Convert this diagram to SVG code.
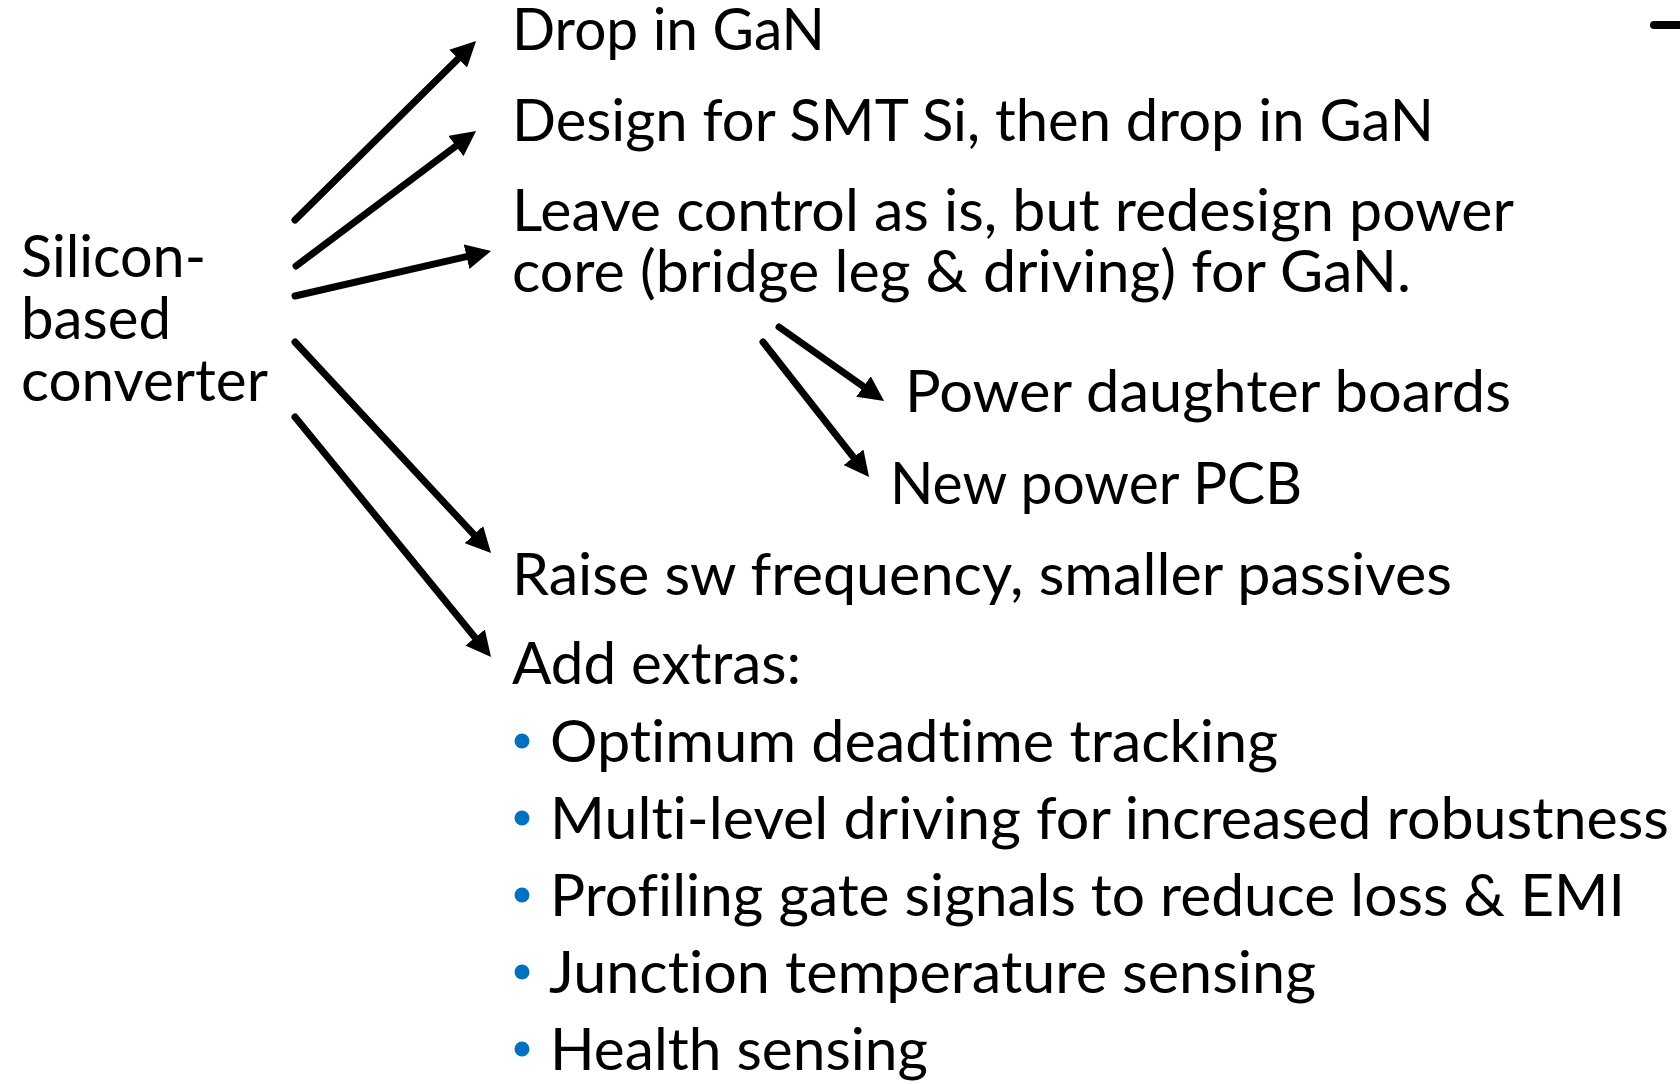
<svg xmlns="http://www.w3.org/2000/svg" width="1680" height="1084" viewBox="0 0 1680 1084">
<style>
  text { font-family: Lato, "Open Sans", "Liberation Sans", sans-serif; font-size: 58px; fill: #000; font-variant-ligatures: none; font-feature-settings: "liga" 0, "clig" 0; }
  .conn line { stroke: #000; stroke-width: 7; stroke-linecap: round; fill: none; }
  .bullet { fill: #0070C0; }
</style>
<defs>
  <marker id="arrow" viewBox="0 0 10 10" refX="5.2" refY="5" markerWidth="3.6" markerHeight="3.6" orient="auto" markerUnits="strokeWidth">
    <path d="M0,0 L10,5 L0,10 z" fill="#000"/>
  </marker>
</defs>
<rect width="1680" height="1084" fill="#fff"/>

<g id="source">
  <text x="21" y="277" textLength="185" lengthAdjust="spacingAndGlyphs">Silicon-</text>
  <text x="21" y="339" textLength="150" lengthAdjust="spacingAndGlyphs">based</text>
  <text x="21" y="401" textLength="247" lengthAdjust="spacingAndGlyphs">converter</text>
</g>

<g id="opt-dropin">
  <text x="512" y="50" textLength="313" lengthAdjust="spacingAndGlyphs">Drop in GaN</text>
</g>
<g id="opt-smt">
  <text x="512" y="141" textLength="922" lengthAdjust="spacingAndGlyphs">Design for SMT Si, then drop in GaN</text>
</g>
<g id="opt-redesign">
  <text x="512" y="231" textLength="1002" lengthAdjust="spacingAndGlyphs">Leave control as is, but redesign power</text>
  <text x="512" y="292" textLength="899" lengthAdjust="spacingAndGlyphs">core (bridge leg &amp; driving) for GaN.</text>
</g>
<g id="opt-daughter">
  <text x="905" y="412" textLength="606" lengthAdjust="spacingAndGlyphs">Power daughter boards</text>
</g>
<g id="opt-pcb">
  <text x="890" y="504" textLength="412" lengthAdjust="spacingAndGlyphs">New power PCB</text>
</g>
<g id="opt-freq">
  <text x="512" y="595" textLength="940" lengthAdjust="spacingAndGlyphs">Raise sw frequency, smaller passives</text>
</g>
<g id="opt-extras">
  <text x="512" y="684" textLength="289" lengthAdjust="spacingAndGlyphs">Add extras:</text>
  <circle class="bullet" cx="522" cy="741" r="7.5"/>
  <text x="550" y="762" textLength="728" lengthAdjust="spacingAndGlyphs">Optimum deadtime tracking</text>
  <circle class="bullet" cx="522" cy="818" r="7.5"/>
  <text x="550" y="839" textLength="1119" lengthAdjust="spacingAndGlyphs">Multi-level driving for increased robustness</text>
  <circle class="bullet" cx="522" cy="895" r="7.5"/>
  <text x="550" y="916" textLength="1075" lengthAdjust="spacingAndGlyphs">Profiling gate signals to reduce loss &amp; EMI</text>
  <circle class="bullet" cx="522" cy="972" r="7.5"/>
  <text x="549" y="993" textLength="767" lengthAdjust="spacingAndGlyphs">Junction temperature sensing</text>
  <circle class="bullet" cx="522" cy="1049" r="7.5"/>
  <text x="550" y="1070" textLength="378" lengthAdjust="spacingAndGlyphs">Health sensing</text>
</g>

<g id="connectors" class="conn">
  <line x1="295" y1="220" x2="467.5" y2="49.4" marker-end="url(#arrow)"/>
  <line x1="296" y1="266" x2="466.4" y2="138.2" marker-end="url(#arrow)"/>
  <line x1="295" y1="296" x2="479.3" y2="253.7" marker-end="url(#arrow)"/>
  <line x1="295" y1="342" x2="482.8" y2="544.2" marker-end="url(#arrow)"/>
  <line x1="295" y1="417" x2="483.4" y2="647.7" marker-end="url(#arrow)"/>
  <line x1="779" y1="327" x2="874.2" y2="394.1" marker-end="url(#arrow)"/>
  <line x1="763" y1="342" x2="861.6" y2="467.6" marker-end="url(#arrow)"/>
</g>

<line id="edge-mark" x1="1654" y1="25" x2="1690" y2="25" stroke="#000" stroke-width="8" stroke-linecap="round"/>
</svg>
